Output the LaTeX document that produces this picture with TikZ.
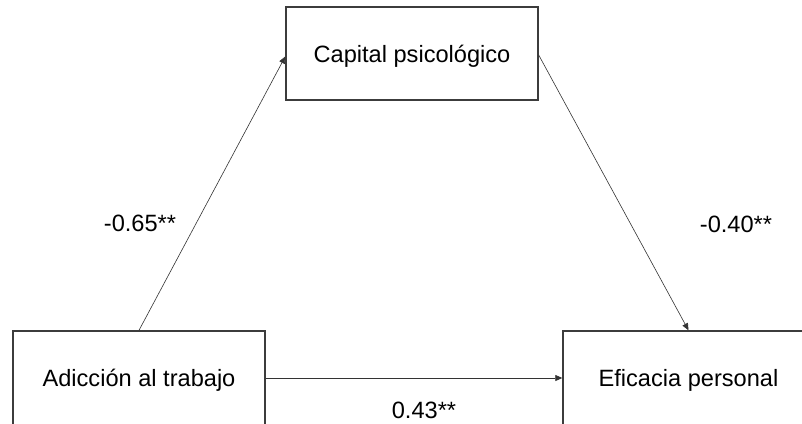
\documentclass[tikz,border=0pt]{standalone}
\usepackage{fontspec}
\setmainfont{Liberation Sans}
\usetikzlibrary{arrows.meta}
\definecolor{boxline}{HTML}{3C3C3C}
\definecolor{arrline}{HTML}{333333}
\begin{document}
\begin{tikzpicture}[x=1pt,y=-1pt,
  every node/.style={font=\fontsize{23.6}{28}\selectfont, inner sep=0pt},
  varbox/.style={draw=boxline, line width=1.4pt, minimum width=252pt, text height=17pt, text depth=0pt},
  path/.style={draw=arrline, line width=0.6pt, -{Triangle[length=7pt,width=6pt]}},
  coef/.style={text height=17pt, text depth=0pt}]
\useasboundingbox (0,0) rectangle (802,423);
\clip (0,0) rectangle (802,423);
\fill[white] (0,0) rectangle (802,423);
\node[varbox, minimum height=93pt] (T) at (412,53.5) {Capital psicológico};
\node[varbox, minimum height=94pt] (L) at (139,378) {Adicción al trabajo};
\node[varbox, minimum height=94pt, minimum width=251pt] (R) at (688.5,378) {Eficacia personal};
\draw[path] (L.north) -- ([yshift=-3pt]T.west);
\draw[path] ([yshift=-1.5pt]T.east) -- (R.north);
\draw[path] (L.east) -- (R.west);
\node[coef] (c1) at (140,223) {-0.65**};
\node[coef] (c2) at (736,224) {-0.40**};
\node[coef] (c3) at (424,409.5) {0.43**};
\end{tikzpicture}
\end{document}
